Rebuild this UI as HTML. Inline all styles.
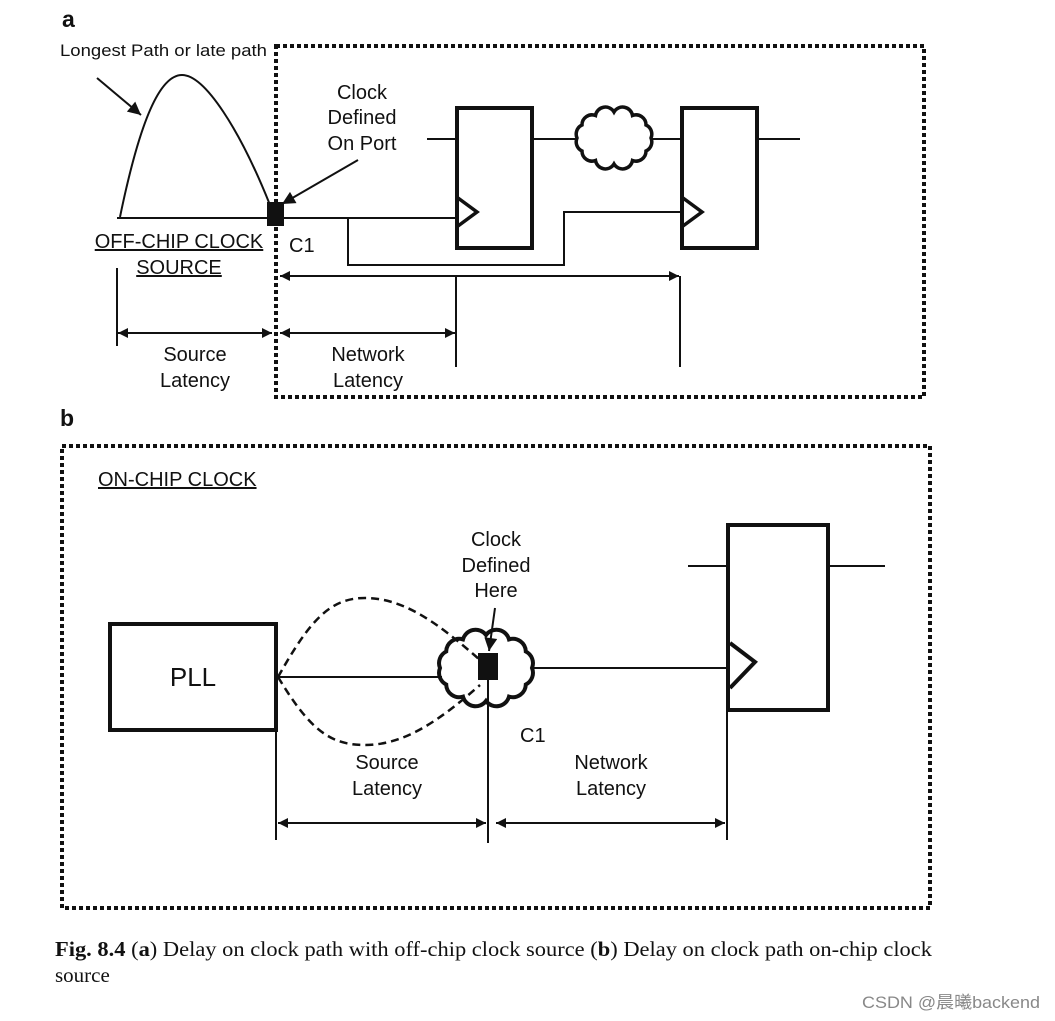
<!DOCTYPE html>
<html><head><meta charset="utf-8"><style>
html,body{margin:0;padding:0;background:#fff;}
svg{display:block;}
text{font-family:"Liberation Sans",sans-serif;fill:#111;}
</style></head><body>
<svg width="1055" height="1021" viewBox="0 0 1055 1021" xmlns="http://www.w3.org/2000/svg">
<defs>
<marker id="ah" viewBox="0 0 10 10" refX="10" refY="5" markerWidth="11" markerHeight="10" orient="auto-start-reverse" markerUnits="userSpaceOnUse"><path d="M0,0 L10,5 L0,10 z" fill="#111"/></marker>
<marker id="ah2" viewBox="0 0 10 10" refX="10" refY="5" markerWidth="15" markerHeight="13" orient="auto-start-reverse" markerUnits="userSpaceOnUse"><path d="M0,0 L10,5 L0,10 z" fill="#111"/></marker>
</defs>
<g stroke="#111" fill="none">
<!-- Part a -->
<rect x="276" y="46" width="648" height="351" stroke-width="4" stroke-dasharray="4,3"/>
<line x1="97" y1="78" x2="141" y2="115" stroke-width="2" marker-end="url(#ah2)"/>
<path d="M120,217 C140,120 160,75 182,75 C205,75 240,130 270,205" stroke-width="2"/>
<line x1="117" y1="218" x2="458" y2="218" stroke-width="2"/>
<line x1="358" y1="160" x2="282" y2="204" stroke-width="2" marker-end="url(#ah2)"/>
<rect x="457" y="108" width="75" height="140" stroke-width="4"/>
<line x1="427" y1="139" x2="457" y2="139" stroke-width="2"/>
<line x1="532" y1="139" x2="577" y2="139" stroke-width="2"/>
<polyline points="458,198 477,212 458,226" stroke-width="3.5"/>
<path d="M651,138 A10,10 0 0 1 646,151 A10,10 0 0 1 632.5,160.5 A10,10 0 0 1 614,164 A10,10 0 0 1 595.5,160.5 A10,10 0 0 1 582,151 A10,10 0 0 1 577,138 A10,10 0 0 1 582,125 A10,10 0 0 1 595.5,115.5 A10,10 0 0 1 614,112 A10,10 0 0 1 632.5,115.5 A10,10 0 0 1 646,125 A10,10 0 0 1 651,138 Z" stroke-width="3.5"/>
<line x1="651" y1="139" x2="682" y2="139" stroke-width="2"/>
<rect x="682" y="108" width="75" height="140" stroke-width="4"/>
<line x1="757" y1="139" x2="800" y2="139" stroke-width="2"/>
<polyline points="683,198 702,212 683,226" stroke-width="3.5"/>
<polyline points="348,218 348,265 564,265 564,212 682,212" stroke-width="2"/>
<line x1="117" y1="268" x2="117" y2="346" stroke-width="2"/>
<line x1="456" y1="277" x2="456" y2="367" stroke-width="2"/>
<line x1="680" y1="276" x2="680" y2="367" stroke-width="2"/>
<line x1="280" y1="276" x2="679" y2="276" stroke-width="2" marker-start="url(#ah)" marker-end="url(#ah)"/>
<line x1="118" y1="333" x2="272" y2="333" stroke-width="2" marker-start="url(#ah)" marker-end="url(#ah)"/>
<line x1="280" y1="333" x2="455" y2="333" stroke-width="2" marker-start="url(#ah)" marker-end="url(#ah)"/>
<!-- Part b -->
<rect x="62" y="446" width="868" height="462" stroke-width="4" stroke-dasharray="4,3"/>
<rect x="110" y="624" width="166" height="106" stroke-width="4"/>
<line x1="276" y1="677" x2="442" y2="677" stroke-width="2"/>
<path d="M278,677 C310,620 330,598 365,598 C405,598 440,625 480,660" stroke-width="2.5" stroke-dasharray="8,5"/>
<path d="M278,677 C310,730 330,745 365,745 C405,745 440,720 480,685" stroke-width="2.5" stroke-dasharray="8,5"/>
<path d="M532,668 A13,13 0 0 1 525.8,684.5 A13,13 0 0 1 509,696.6 A13,13 0 0 1 486,701 A13,13 0 0 1 463,696.6 A13,13 0 0 1 446.2,684.5 A13,13 0 0 1 440,668 A13,13 0 0 1 446.2,651.5 A13,13 0 0 1 463,639.4 A13,13 0 0 1 486,635 A13,13 0 0 1 509,639.4 A13,13 0 0 1 525.8,651.5 A13,13 0 0 1 532,668 Z" stroke-width="4"/>
<line x1="495" y1="608" x2="489" y2="651" stroke-width="2" marker-end="url(#ah2)"/>
<line x1="532" y1="668" x2="728" y2="668" stroke-width="2"/>
<rect x="728" y="525" width="100" height="185" stroke-width="4"/>
<line x1="688" y1="566" x2="728" y2="566" stroke-width="2"/>
<line x1="828" y1="566" x2="885" y2="566" stroke-width="2"/>
<polyline points="730,643 755,662 730,688" stroke-width="4"/>
<line x1="276" y1="730" x2="276" y2="840" stroke-width="2"/>
<line x1="488" y1="680" x2="488" y2="843" stroke-width="2"/>
<line x1="727" y1="710" x2="727" y2="840" stroke-width="2"/>
<line x1="278" y1="823" x2="486" y2="823" stroke-width="2" marker-start="url(#ah)" marker-end="url(#ah)"/>
<line x1="496" y1="823" x2="725" y2="823" stroke-width="2" marker-start="url(#ah)" marker-end="url(#ah)"/>
</g>
<rect x="267" y="202" width="17" height="24" fill="#111"/>
<rect x="478" y="653" width="20" height="27" fill="#111"/>
<!-- text -->
<text x="62" y="27" font-size="23" font-weight="bold">a</text>
<text x="60" y="56" font-size="17" textLength="207" lengthAdjust="spacingAndGlyphs">Longest Path or late path</text>
<g font-size="20" text-anchor="middle">
<text x="362" y="99">Clock</text>
<text x="362" y="124">Defined</text>
<text x="362" y="150">On Port</text>
<text x="179" y="248" text-decoration="underline">OFF-CHIP CLOCK</text>
<text x="179" y="274" text-decoration="underline">SOURCE</text>
<text x="195" y="361">Source</text>
<text x="195" y="387">Latency</text>
<text x="368" y="361">Network</text>
<text x="368" y="387">Latency</text>
<text x="496" y="546">Clock</text>
<text x="496" y="572">Defined</text>
<text x="496" y="597">Here</text>
<text x="387" y="769">Source</text>
<text x="387" y="795">Latency</text>
<text x="611" y="769">Network</text>
<text x="611" y="795">Latency</text>
</g>
<text x="289" y="252" font-size="20">C1</text>
<text x="60" y="426" font-size="23" font-weight="bold">b</text>
<text x="98" y="486" font-size="20" text-decoration="underline">ON-CHIP CLOCK</text>
<text x="193" y="686" font-size="26" text-anchor="middle">PLL</text>
<text x="520" y="742" font-size="20">C1</text>
<text x="55" y="956" font-size="21" textLength="877" lengthAdjust="spacingAndGlyphs" style="font-family:'Liberation Serif',serif"><tspan font-weight="bold">Fig. 8.4</tspan>   (<tspan font-weight="bold">a</tspan>) Delay on clock path with off-chip clock source (<tspan font-weight="bold">b</tspan>) Delay on clock path on-chip clock</text>
<text x="55" y="982" font-size="21" style="font-family:'Liberation Serif',serif">source</text>
<text x="862" y="1008" font-size="17" textLength="178" lengthAdjust="spacingAndGlyphs" style="fill:#888;font-family:'Liberation Sans','Noto Sans CJK SC',sans-serif">CSDN @晨曦backend</text>
</svg>
</body></html>
